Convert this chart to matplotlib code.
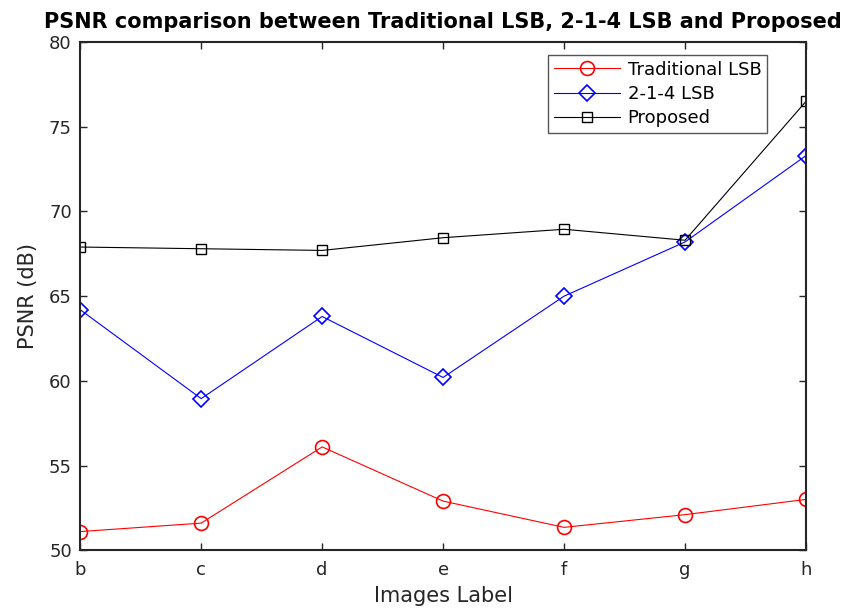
import matplotlib
matplotlib.use("Agg")
import matplotlib.pyplot as plt

plt.rcParams['font.family'] = ['DejaVu Sans']

labels = ["b", "c", "d", "e", "f", "g", "h"]
lsb = [51.1, 51.6, 56.1, 52.9, 51.35, 52.1, 53.0]
lsb214 = [64.2, 58.95, 63.8, 60.2, 65.0, 68.2, 73.3]
proposed = [67.9, 67.8, 67.7, 68.45, 68.95, 68.3, 76.5]

fig = plt.figure(figsize=(8.44, 6.10), dpi=100)
ax = fig.add_axes([0.095, 0.098, 0.86, 0.833])

x = range(len(labels))
ax.plot(x, lsb, color="red", lw=0.8, marker="o", ms=10, mfc="none", mew=1.2,
        label="Traditional LSB")
ax.plot(x, lsb214, color="blue", lw=0.8, marker="D", ms=8, mfc="none", mew=1.2,
        label="2-1-4 LSB")
ax.plot(x, proposed, color="black", lw=0.8, marker="s", ms=7, mfc="none", mew=1.0,
        label="Proposed")

ax.set_xlim(0, len(labels) - 1)
ax.set_ylim(50, 80)
ax.set_xticks(list(x))
ax.set_xticklabels(labels)
ax.set_yticks(range(50, 81, 5))

dark = "#262626"
for s in ax.spines.values():
    s.set_linewidth(1.5)
    s.set_color(dark)
ax.tick_params(direction="in", top=True, right=True, length=5, width=1.0,
               labelsize=13, colors=dark, pad=8)
ax.tick_params(axis="y", pad=6)

ax.set_xlabel("Images Label", fontsize=15, color=dark, labelpad=5)
ax.set_ylabel("PSNR (dB)", fontsize=15, color=dark, labelpad=8)
ax.set_title("PSNR comparison between Traditional LSB, 2-1-4 LSB and Proposed",
             fontsize=15, fontweight="bold", pad=10)

leg = ax.legend(loc="upper right", bbox_to_anchor=(0.946, 0.974), borderaxespad=0,
                fontsize=13, fancybox=False, framealpha=1, edgecolor="#555555",
                handlelength=3.7, handletextpad=0.4, borderpad=0.3,
                labelspacing=0.35)
leg.get_frame().set_linewidth(1.0)

fig.savefig("out.png", dpi=100)
